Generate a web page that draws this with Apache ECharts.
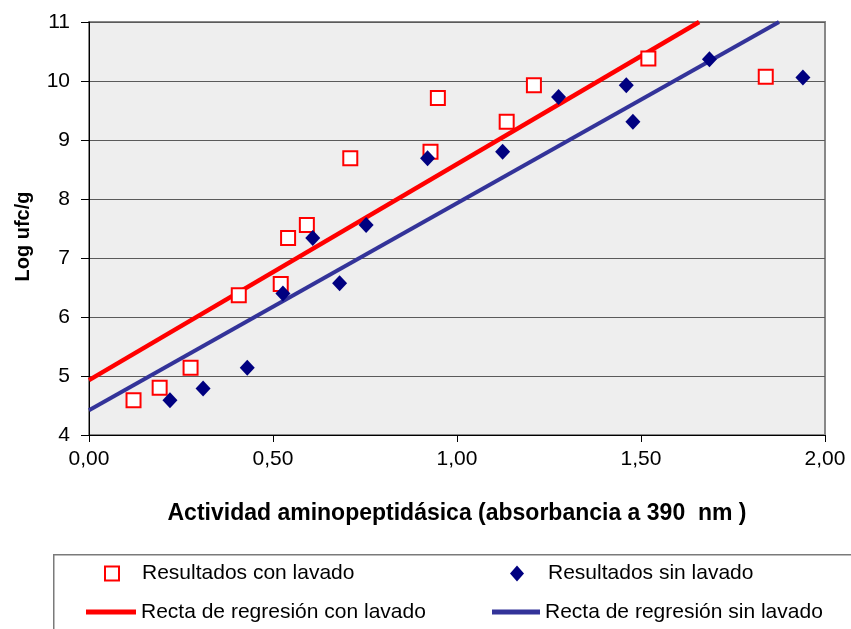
<!DOCTYPE html>
<html>
<head>
<meta charset="utf-8">
<script src="https://cdn.jsdelivr.net/npm/echarts@6/dist/echarts.min.js"></script>
<style>
html,body{margin:0;padding:0;background:#fff;}
#chart{width:851px;height:629px;}
</style>
</head>
<body>
<div id="chart"></div>
<script>
// Data
const conX = [0.121, 0.192, 0.276, 0.407, 0.521, 0.541, 0.592, 0.710, 0.928, 0.948, 1.135, 1.209, 1.520, 1.839];
const conY = [4.59, 4.80, 5.14, 6.37, 6.56, 7.34, 7.56, 8.69, 8.80, 9.71, 9.31, 9.93, 10.38, 10.07];
const sinX = [0.220, 0.310, 0.430, 0.527, 0.608, 0.681, 0.753, 0.920, 1.124, 1.276, 1.460, 1.478, 1.686, 1.940];
const sinY = [4.59, 4.79, 5.14, 6.40, 7.34, 6.57, 7.56, 8.69, 8.80, 9.73, 9.93, 9.31, 10.37, 10.06];
const regConX = [0, 1.658];
const regConY = [4.93, 11.0];
const regSinX = [0, 1.875];
const regSinY = [4.42, 11.0];
const seriesNames = ['Resultados con lavado', 'Resultados sin lavado', 'Recta de regresión con lavado', 'Recta de regresión sin lavado'];
const xTitle = 'Actividad aminopeptidásica (absorbancia a 390  nm )';
const yTitle = 'Log ufc/g';

const zip = (a, b) => a.map((v, i) => [v, b[i]]);
const FONT = 'Arial, "Liberation Sans", sans-serif';

const chart = echarts.init(document.getElementById('chart'), null, {renderer: 'canvas'});

function legendItem(name, left, centerY, w, h, pad, icon) {
  const o = {
    data: [name], left: left, top: centerY - 11, itemWidth: w, itemHeight: h,
    padding: 0, selectedMode: false,
    textStyle: {fontFamily: FONT, fontSize: 21, color: '#000', padding: [0, 0, 0, pad]}
  };
  if (icon) o.icon = icon;
  return o;
}

chart.setOption({
  animation: false,
  textStyle: {fontFamily: FONT},
  grid: {left: 89, right: 26, top: 22, bottom: 194, show: true, backgroundColor: '#eeeeee', borderColor: '#888', borderWidth: 2},
  graphic: [
    {type: 'rect', left: 53, top: 554, shape: {width: 820, height: 90},
     style: {fill: '#fff', stroke: '#7a7a7a', lineWidth: 1.5}, z: -1}
  ],
  legend: [
    legendItem(seriesNames[0], 104, 574, 14, 14, 18),
    legendItem(seriesNames[1], 510, 574, 14, 16, 19),
    legendItem(seriesNames[2], 86, 612.5, 50, 5, 0, 'rect'),
    legendItem(seriesNames[3], 492, 612.5, 48, 5, 0, 'rect')
  ],
  xAxis: {
    type: 'value', min: 0, max: 2, interval: 0.5,
    name: xTitle, nameLocation: 'middle', nameGap: 67,
    nameTextStyle: {fontFamily: FONT, fontSize: 23, fontWeight: 'bold', color: '#000'},
    axisLine: {show: true, lineStyle: {color: '#000', width: 1}},
    axisTick: {show: true, length: 7, lineStyle: {color: '#000'}},
    axisLabel: {fontSize: 21, color: '#000', margin: 14, formatter: v => v.toFixed(2).replace('.', ',')},
    splitLine: {show: false}
  },
  yAxis: {
    type: 'value', min: 4, max: 11, interval: 1,
    name: yTitle, nameLocation: 'middle', nameGap: 56, nameRotate: 90,
    nameTextStyle: {fontFamily: FONT, fontSize: 20, fontWeight: 'bold', color: '#000', padding: [0, 16, 0, 0]},
    axisLine: {show: true, lineStyle: {color: '#000', width: 1}},
    axisTick: {show: true, length: 8, lineStyle: {color: '#000'}},
    axisLabel: {fontSize: 21, color: '#000', margin: 19},
    splitLine: {show: true, lineStyle: {color: '#5a5a5a', width: 1.2}}
  },
  series: [
    {
      name: seriesNames[2], type: 'line', data: zip(regConX, regConY), symbol: 'none', clip: true,
      lineStyle: {color: '#ff0000', width: 4.5}, itemStyle: {color: '#ff0000'}, z: 2
    },
    {
      name: seriesNames[3], type: 'line', data: zip(regSinX, regSinY), symbol: 'none', clip: true,
      lineStyle: {color: '#333399', width: 4}, itemStyle: {color: '#333399'}, z: 2
    },
    {
      name: seriesNames[0], type: 'scatter', data: zip(conX, conY), symbol: 'rect', symbolSize: 14,
      itemStyle: {color: '#ffffff', borderColor: '#ff0000', borderWidth: 2, opacity: 1}, z: 3
    },
    {
      name: seriesNames[1], type: 'scatter', data: zip(sinX, sinY), symbol: 'diamond', symbolSize: [15, 16],
      itemStyle: {color: '#000080', opacity: 1}, z: 4
    }
  ]
});
</script>
</body>
</html>
